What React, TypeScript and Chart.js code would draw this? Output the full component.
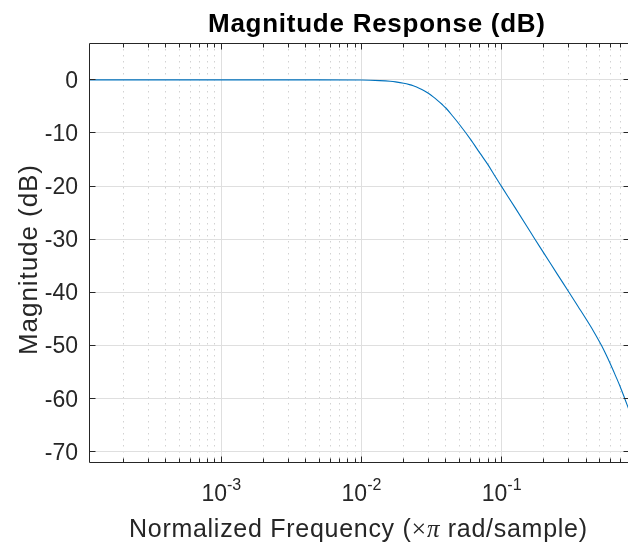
import React, { useEffect, useRef } from "react";
import { Chart, registerables } from "chart.js";

Chart.register(...registerables);

// ---- data ----
const freq = [
  1.138e-4, 1e-3, 5e-3, 0.01, 0.0135, 0.016, 0.0175, 0.02, 0.022, 0.0234, 0.026, 0.028,
  0.03, 0.0325, 0.035, 0.0375, 0.04, 0.045, 0.05, 0.06, 0.07, 0.08, 0.09, 0.1, 0.125,
  0.15, 0.1728, 0.2, 0.25, 0.303, 0.35, 0.4, 0.45, 0.516, 0.6, 0.65, 0.7, 0.756, 0.81,
];
const magDb = [
  0, 0, 0, -0.04, -0.15, -0.27, -0.38, -0.63, -0.9, -1.12, -1.61, -2.05,
  -2.54, -3.2, -3.9, -4.6, -5.3, -6.9, -8.4, -11.2, -13.8, -16.0, -18.2, -20.1, -24.1,
  -27.4, -30.0, -32.6, -36.6, -40.0, -42.6, -45.0, -47.2, -50.0, -53.6, -55.7, -57.7, -60.0, -62.1,
];
const xMin = 1.138e-4;
const xMax = 0.81;
const yMin = -72.0;
const yMax = 6.93;
const yTicks = [0, -10, -20, -30, -40, -50, -60, -70];
const xMajorTicks = [1e-3, 1e-2, 1e-1];
const xMajorExponents = ["-3", "-2", "-1"];
const minorMultipliers = [2, 3, 4, 5, 6, 7, 8, 9];
const decades = [-5, -4, -3, -2, -1, 0];

const titleText = "Magnitude Response (dB)";
const yLabelText = "Magnitude (dB)";
const xLabelParts = ["Normalized Frequency (", "\u00d7", "\u03c0", " rad/sample)"];

const SANS = '"Liberation Sans", Arial, Helvetica, sans-serif';
const SERIF = '"Liberation Serif", "DejaVu Serif", serif';
const AXIS = "#262626";

type Seg = { text: string; font: string };

function drawSpaced(ctx: CanvasRenderingContext2D, segs: Seg[], x: number, y: number, target: number) {
  const c: any = ctx;
  c.letterSpacing = "0px";
  let total = 0;
  let n = 0;
  for (const s of segs) {
    ctx.font = s.font;
    total += ctx.measureText(s.text).width;
    n += s.text.length;
  }
  const ls = Math.max(0, (target - total) / Math.max(1, n - 1));
  let cx = x;
  for (const s of segs) {
    ctx.font = s.font;
    c.letterSpacing = "0px";
    const w = ctx.measureText(s.text).width;
    c.letterSpacing = ls + "px";
    ctx.fillText(s.text, cx, y);
    cx += w + s.text.length * ls;
  }
  c.letterSpacing = "0px";
}

const matlabPlugin = {
  id: "matlabAxes",
  beforeDatasetsDraw(chart: any) {
    const { ctx, chartArea: a, scales } = chart;
    const x = scales.x;
    const y = scales.y;
    ctx.save();
    // minor dotted grid (x only)
    ctx.lineWidth = 1;
    ctx.strokeStyle = "#d2d2d2";
    ctx.setLineDash([1.5, 4.5]);
    for (const d of decades) {
      for (const k of minorMultipliers) {
        const v = k * Math.pow(10, d);
        if (v <= xMin || v >= xMax) continue;
        const px = Math.floor(x.getPixelForValue(v)) + 0.5;
        ctx.beginPath();
        ctx.moveTo(px, a.top);
        ctx.lineTo(px, a.bottom);
        ctx.stroke();
      }
    }
    // major solid grid
    ctx.setLineDash([]);
    ctx.strokeStyle = "#dfdfdf";
    for (const v of xMajorTicks) {
      const px = Math.floor(x.getPixelForValue(v)) + 0.5;
      ctx.beginPath();
      ctx.moveTo(px, a.top);
      ctx.lineTo(px, a.bottom);
      ctx.stroke();
    }
    for (const v of yTicks) {
      const py = Math.floor(y.getPixelForValue(v)) + 0.5;
      ctx.beginPath();
      ctx.moveTo(a.left, py);
      ctx.lineTo(a.right, py);
      ctx.stroke();
    }
    ctx.restore();
  },
  afterDatasetsDraw(chart: any) {
    const { ctx, chartArea: a, scales } = chart;
    const x = scales.x;
    const y = scales.y;
    ctx.save();
    ctx.strokeStyle = AXIS;
    ctx.lineWidth = 1;
    const L = Math.floor(a.left) + 0.5;
    const R = Math.floor(a.right) + 0.5;
    const T = Math.floor(a.top) + 0.5;
    const B = Math.floor(a.bottom) + 0.5;
    ctx.beginPath();
    ctx.rect(L, T, R - L, B - T);
    ctx.stroke();
    // ticks
    ctx.beginPath();
    for (const v of yTicks) {
      const py = Math.floor(y.getPixelForValue(v)) + 0.5;
      ctx.moveTo(L, py);
      ctx.lineTo(L + 6, py);
      ctx.moveTo(R, py);
      ctx.lineTo(R - 6, py);
    }
    for (const v of xMajorTicks) {
      const px = Math.floor(x.getPixelForValue(v)) + 0.5;
      ctx.moveTo(px, B);
      ctx.lineTo(px, B - 6);
      ctx.moveTo(px, T);
      ctx.lineTo(px, T + 6);
    }
    for (const d of decades) {
      for (const k of minorMultipliers) {
        const v = k * Math.pow(10, d);
        if (v <= xMin || v >= xMax) continue;
        const px = Math.floor(x.getPixelForValue(v)) + 0.5;
        ctx.moveTo(px, B);
        ctx.lineTo(px, B - 4);
        ctx.moveTo(px, T);
        ctx.lineTo(px, T + 4);
      }
    }
    ctx.stroke();

    // y tick labels
    ctx.fillStyle = AXIS;
    ctx.font = `23px ${SANS}`;
    ctx.textAlign = "right";
    ctx.textBaseline = "middle";
    for (const v of yTicks) {
      ctx.fillText(String(v), a.left - 11, y.getPixelForValue(v) + 1.5);
    }
    // x tick labels with superscripts
    ctx.textAlign = "left";
    ctx.textBaseline = "alphabetic";
    xMajorTicks.forEach((v, i) => {
      const px = x.getPixelForValue(v);
      ctx.font = `23px ${SANS}`;
      const wBase = ctx.measureText("10").width;
      ctx.font = `16px ${SANS}`;
      const wSup = ctx.measureText(xMajorExponents[i]).width;
      const start = px - (wBase + wSup) / 2;
      ctx.font = `23px ${SANS}`;
      ctx.fillText("10", start, 501);
      ctx.font = `16px ${SANS}`;
      ctx.fillText(xMajorExponents[i], start + wBase, 490);
    });

    // x label
    drawSpaced(
      ctx,
      [
        { text: xLabelParts[0], font: `25px ${SANS}` },
        { text: xLabelParts[1], font: `26px ${SERIF}` },
        { text: xLabelParts[2], font: `italic 25px ${SERIF}` },
        { text: xLabelParts[3], font: `25px ${SANS}` },
      ],
      129,
      537,
      458
    );
    // y label
    ctx.save();
    ctx.translate(37, 355);
    ctx.rotate(-Math.PI / 2);
    drawSpaced(ctx, [{ text: yLabelText, font: `26px ${SANS}` }], 0, 0, 190);
    ctx.restore();
    // title
    ctx.fillStyle = "#000";
    drawSpaced(ctx, [{ text: titleText, font: `bold 26px ${SANS}` }], 208, 32, 337);
    ctx.restore();
  },
};

export default function App() {
  const ref = useRef<HTMLCanvasElement | null>(null);
  useEffect(() => {
    if (!ref.current) return;
    const chart = new Chart(ref.current, {
      type: "line",
      data: {
        datasets: [
          {
            data: freq.map((f, i) => ({ x: f, y: magDb[i] })),
            borderColor: "#0072BD",
            borderWidth: 1.1,
            pointRadius: 0,
            fill: false,
            cubicInterpolationMode: "monotone",
          },
        ],
      },
      options: {
        animation: false,
        responsive: false,
        devicePixelRatio: 1,
        events: [],
        layout: { padding: { left: 89, top: 43, right: 11, bottom: 81.5 } },
        plugins: { legend: { display: false }, tooltip: { enabled: false }, title: { display: false } },
        scales: {
          x: { type: "logarithmic", min: xMin, max: xMax, display: false },
          y: { type: "linear", min: yMin, max: yMax, display: false },
        },
      },
      plugins: [matlabPlugin],
    } as any);
    return () => chart.destroy();
  }, []);
  return (
    <div
      style={{
        position: "absolute",
        left: 0,
        top: 0,
        width: 628,
        height: 544,
        overflow: "hidden",
        background: "#fff",
      }}
    >
      <canvas ref={ref} width={640} height={544} style={{ width: 640, height: 544, display: "block" }} />
    </div>
  );
}
